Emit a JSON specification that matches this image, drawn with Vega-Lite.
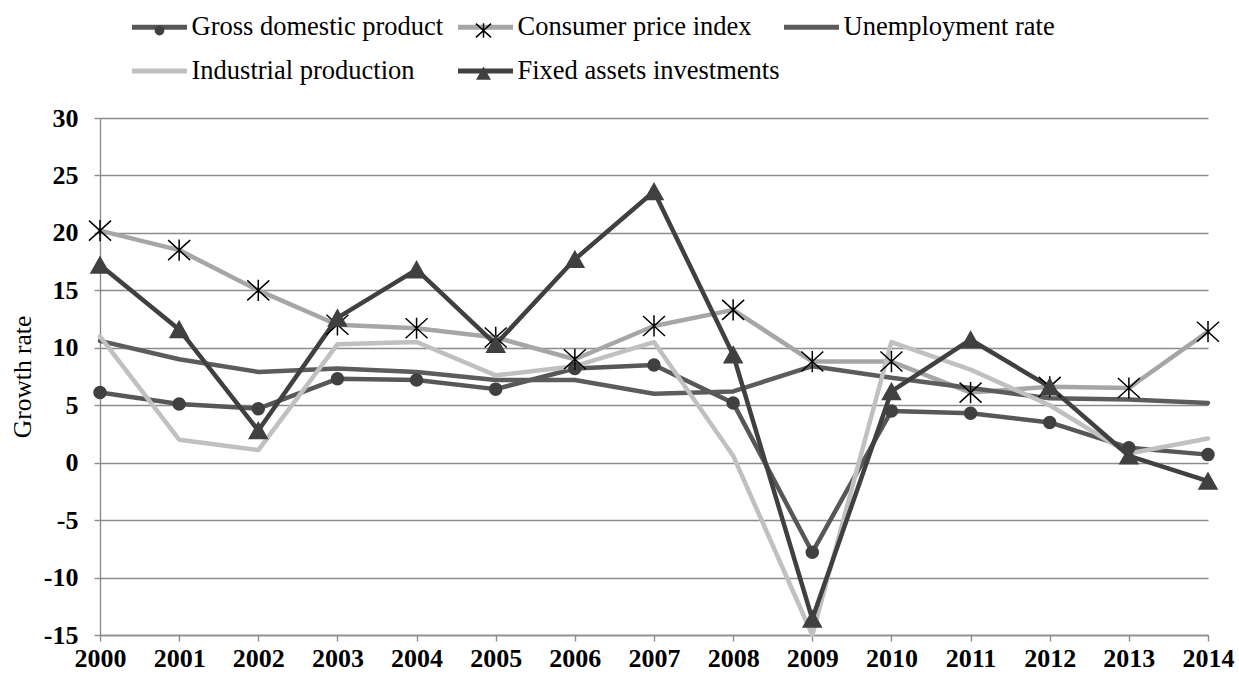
{
  "$schema": "https://vega.github.io/schema/vega-lite/v6.json",
  "autosize": {"type": "none"},
  "padding": {"left": 100, "top": 118, "right": 31, "bottom": 42},
  "width": 1108,
  "height": 517,
  "background": "white",
  "config": {
    "view": {"stroke": null},
    "font": "Liberation Serif",
    "axis": {
      "labelFont": "Liberation Serif",
      "labelFontSize": 26,
      "labelFontWeight": "bold",
      "labelColor": "#000000",
      "titleFont": "Liberation Serif",
      "titleFontSize": 25.5,
      "titleFontWeight": "normal",
      "titleColor": "#000000",
      "domainColor": "#8c8c8c",
      "domainWidth": 1.4,
      "tickColor": "#8c8c8c",
      "tickWidth": 1.4,
      "tickSize": 6,
      "gridColor": "#8c8c8c",
      "gridWidth": 1.4
    },
    "legend": {
      "labelFont": "Liberation Serif",
      "labelFontSize": 26.5,
      "labelColor": "#000000",
      "labelLimit": 500
    }
  },
  "data": {
    "values": [
      {"year": "2000", "series": "Gross domestic product", "value": 6.1},
      {"year": "2001", "series": "Gross domestic product", "value": 5.1},
      {"year": "2002", "series": "Gross domestic product", "value": 4.7},
      {"year": "2003", "series": "Gross domestic product", "value": 7.3},
      {"year": "2004", "series": "Gross domestic product", "value": 7.2},
      {"year": "2005", "series": "Gross domestic product", "value": 6.4},
      {"year": "2006", "series": "Gross domestic product", "value": 8.2},
      {"year": "2007", "series": "Gross domestic product", "value": 8.5},
      {"year": "2008", "series": "Gross domestic product", "value": 5.2},
      {"year": "2009", "series": "Gross domestic product", "value": -7.8},
      {"year": "2010", "series": "Gross domestic product", "value": 4.5},
      {"year": "2011", "series": "Gross domestic product", "value": 4.3},
      {"year": "2012", "series": "Gross domestic product", "value": 3.5},
      {"year": "2013", "series": "Gross domestic product", "value": 1.3},
      {"year": "2014", "series": "Gross domestic product", "value": 0.7},
      {"year": "2000", "series": "Consumer price index", "value": 20.2},
      {"year": "2001", "series": "Consumer price index", "value": 18.5},
      {"year": "2002", "series": "Consumer price index", "value": 15.0},
      {"year": "2003", "series": "Consumer price index", "value": 12.0},
      {"year": "2004", "series": "Consumer price index", "value": 11.7},
      {"year": "2005", "series": "Consumer price index", "value": 10.9},
      {"year": "2006", "series": "Consumer price index", "value": 9.0},
      {"year": "2007", "series": "Consumer price index", "value": 11.9},
      {"year": "2008", "series": "Consumer price index", "value": 13.3},
      {"year": "2009", "series": "Consumer price index", "value": 8.8},
      {"year": "2010", "series": "Consumer price index", "value": 8.8},
      {"year": "2011", "series": "Consumer price index", "value": 6.1},
      {"year": "2012", "series": "Consumer price index", "value": 6.6},
      {"year": "2013", "series": "Consumer price index", "value": 6.5},
      {"year": "2014", "series": "Consumer price index", "value": 11.4},
      {"year": "2000", "series": "Unemployment rate", "value": 10.6},
      {"year": "2001", "series": "Unemployment rate", "value": 9.0},
      {"year": "2002", "series": "Unemployment rate", "value": 7.9},
      {"year": "2003", "series": "Unemployment rate", "value": 8.2},
      {"year": "2004", "series": "Unemployment rate", "value": 7.9},
      {"year": "2005", "series": "Unemployment rate", "value": 7.2},
      {"year": "2006", "series": "Unemployment rate", "value": 7.2},
      {"year": "2007", "series": "Unemployment rate", "value": 6.0},
      {"year": "2008", "series": "Unemployment rate", "value": 6.2},
      {"year": "2009", "series": "Unemployment rate", "value": 8.4},
      {"year": "2010", "series": "Unemployment rate", "value": 7.4},
      {"year": "2011", "series": "Unemployment rate", "value": 6.5},
      {"year": "2012", "series": "Unemployment rate", "value": 5.6},
      {"year": "2013", "series": "Unemployment rate", "value": 5.5},
      {"year": "2014", "series": "Unemployment rate", "value": 5.2},
      {"year": "2000", "series": "Industrial production", "value": 11.0},
      {"year": "2001", "series": "Industrial production", "value": 2.0},
      {"year": "2002", "series": "Industrial production", "value": 1.1},
      {"year": "2003", "series": "Industrial production", "value": 10.3},
      {"year": "2004", "series": "Industrial production", "value": 10.5},
      {"year": "2005", "series": "Industrial production", "value": 7.6},
      {"year": "2006", "series": "Industrial production", "value": 8.4},
      {"year": "2007", "series": "Industrial production", "value": 10.5},
      {"year": "2008", "series": "Industrial production", "value": 0.6},
      {"year": "2009", "series": "Industrial production", "value": -15.0},
      {"year": "2010", "series": "Industrial production", "value": 10.5},
      {"year": "2011", "series": "Industrial production", "value": 8.1},
      {"year": "2012", "series": "Industrial production", "value": 5.0},
      {"year": "2013", "series": "Industrial production", "value": 0.8},
      {"year": "2014", "series": "Industrial production", "value": 2.1},
      {"year": "2000", "series": "Fixed assets investments", "value": 17.2},
      {"year": "2001", "series": "Fixed assets investments", "value": 11.6},
      {"year": "2002", "series": "Fixed assets investments", "value": 2.8},
      {"year": "2003", "series": "Fixed assets investments", "value": 12.6},
      {"year": "2004", "series": "Fixed assets investments", "value": 16.8},
      {"year": "2005", "series": "Fixed assets investments", "value": 10.3},
      {"year": "2006", "series": "Fixed assets investments", "value": 17.7},
      {"year": "2007", "series": "Fixed assets investments", "value": 23.6},
      {"year": "2008", "series": "Fixed assets investments", "value": 9.4},
      {"year": "2009", "series": "Fixed assets investments", "value": -13.6},
      {"year": "2010", "series": "Fixed assets investments", "value": 6.2},
      {"year": "2011", "series": "Fixed assets investments", "value": 10.7},
      {"year": "2012", "series": "Fixed assets investments", "value": 6.6},
      {"year": "2013", "series": "Fixed assets investments", "value": 0.6},
      {"year": "2014", "series": "Fixed assets investments", "value": -1.6}
    ]
  },
  "encoding": {
    "x": {
      "field": "year",
      "type": "ordinal",
      "sort": null,
      "scale": {"type": "point", "padding": 0},
      "axis": {"title": null, "labelAngle": 0, "labelPadding": 4, "grid": false}
    },
    "y": {
      "field": "value",
      "type": "quantitative",
      "scale": {"domain": [-15, 30], "nice": false, "zero": false},
      "axis": {
        "title": "Growth rate",
        "values": [-15, -10, -5, 0, 5, 10, 15, 20, 25, 30],
        "labelExpr": "'' + datum.value",
        "grid": true,
        "labelPadding": 16,
        "titlePadding": 8
      }
    }
  },
  "layer": [
    {
      "mark": {"type": "line", "strokeWidth": 4.5, "strokeJoin": "round", "strokeCap": "round"},
      "encoding": {
        "color": {
          "field": "series",
          "type": "nominal",
          "scale": {
            "domain": ["Gross domestic product", "Consumer price index", "Unemployment rate", "Industrial production", "Fixed assets investments"],
            "range": ["#575757", "#a6a6a6", "#5c5c5c", "#c0c0c0", "#404040"]
          },
          "legend": {
            "title": null,
            "orient": "none",
            "legendX": 29.5,
            "legendY": -121,
            "direction": "horizontal",
            "columns": 3,
            "gridAlign": "all",
            "columnPadding": -7,
            "rowPadding": 0,
            "symbolType": "stroke",
            "symbolSize": 3025,
            "symbolStrokeWidth": 5,
            "labelOffset": 2
          }
        }
      }
    },
    {
      "mark": {"type": "point", "filled": true, "opacity": 1, "size": 6400, "strokeWidth": 1.5},
      "encoding": {
        "shape": {
          "field": "series",
          "type": "nominal",
          "scale": {
            "domain": ["Fixed assets investments", "Industrial production", "Unemployment rate", "Consumer price index", "Gross domestic product"],
            "range": [
              "M0,-0.2L0.225,0.2L-0.225,0.2Z",
              "M0,0",
              "M0,0",
              "M-0.275,-0.25L0.275,0.25M-0.275,0.25L0.275,-0.25M0,-0.265L0,0.265",
              "M0.15,0A0.15,0.15 0 1,1 -0.15,0A0.15,0.15 0 1,1 0.15,0Z"
            ]
          },
          "legend": {
            "title": null,
            "orient": "none",
            "legendX": 29.5,
            "legendY": -116,
            "direction": "horizontal",
            "columns": 3,
            "gridAlign": "all",
            "columnPadding": 265,
            "rowPadding": 1,
            "symbolSize": 3025,
            "symbolStrokeWidth": 1.5,
            "symbolOffset": 1.5,
            "labelOffset": 0,
            "labelExpr": "''",
            "values": ["Gross domestic product", "Consumer price index", "Unemployment rate", "Industrial production", "Fixed assets investments"]
          }
        },
        "fill": {
          "field": "series",
          "type": "nominal",
          "scale": {
            "domain": ["Fixed assets investments", "Industrial production", "Unemployment rate", "Consumer price index", "Gross domestic product"],
            "range": ["#404040", "transparent", "transparent", "transparent", "#404040"]
          },
          "legend": {
            "title": null,
            "orient": "none",
            "legendX": 29.5,
            "legendY": -116,
            "direction": "horizontal",
            "columns": 3,
            "gridAlign": "all",
            "columnPadding": 265,
            "rowPadding": 1,
            "symbolSize": 3025,
            "symbolStrokeWidth": 1.5,
            "symbolOffset": 1.5,
            "labelOffset": 0,
            "labelExpr": "''",
            "values": ["Gross domestic product", "Consumer price index", "Unemployment rate", "Industrial production", "Fixed assets investments"]
          }
        },
        "stroke": {
          "field": "series",
          "type": "nominal",
          "scale": {
            "domain": ["Fixed assets investments", "Industrial production", "Unemployment rate", "Consumer price index", "Gross domestic product"],
            "range": ["#404040", "transparent", "transparent", "#000000", "#404040"]
          },
          "legend": {
            "title": null,
            "orient": "none",
            "legendX": 29.5,
            "legendY": -116,
            "direction": "horizontal",
            "columns": 3,
            "gridAlign": "all",
            "columnPadding": 265,
            "rowPadding": 1,
            "symbolSize": 3025,
            "symbolStrokeWidth": 1.5,
            "symbolOffset": 1.5,
            "labelOffset": 0,
            "labelExpr": "''",
            "values": ["Gross domestic product", "Consumer price index", "Unemployment rate", "Industrial production", "Fixed assets investments"]
          }
        }
      }
    }
  ]
}
